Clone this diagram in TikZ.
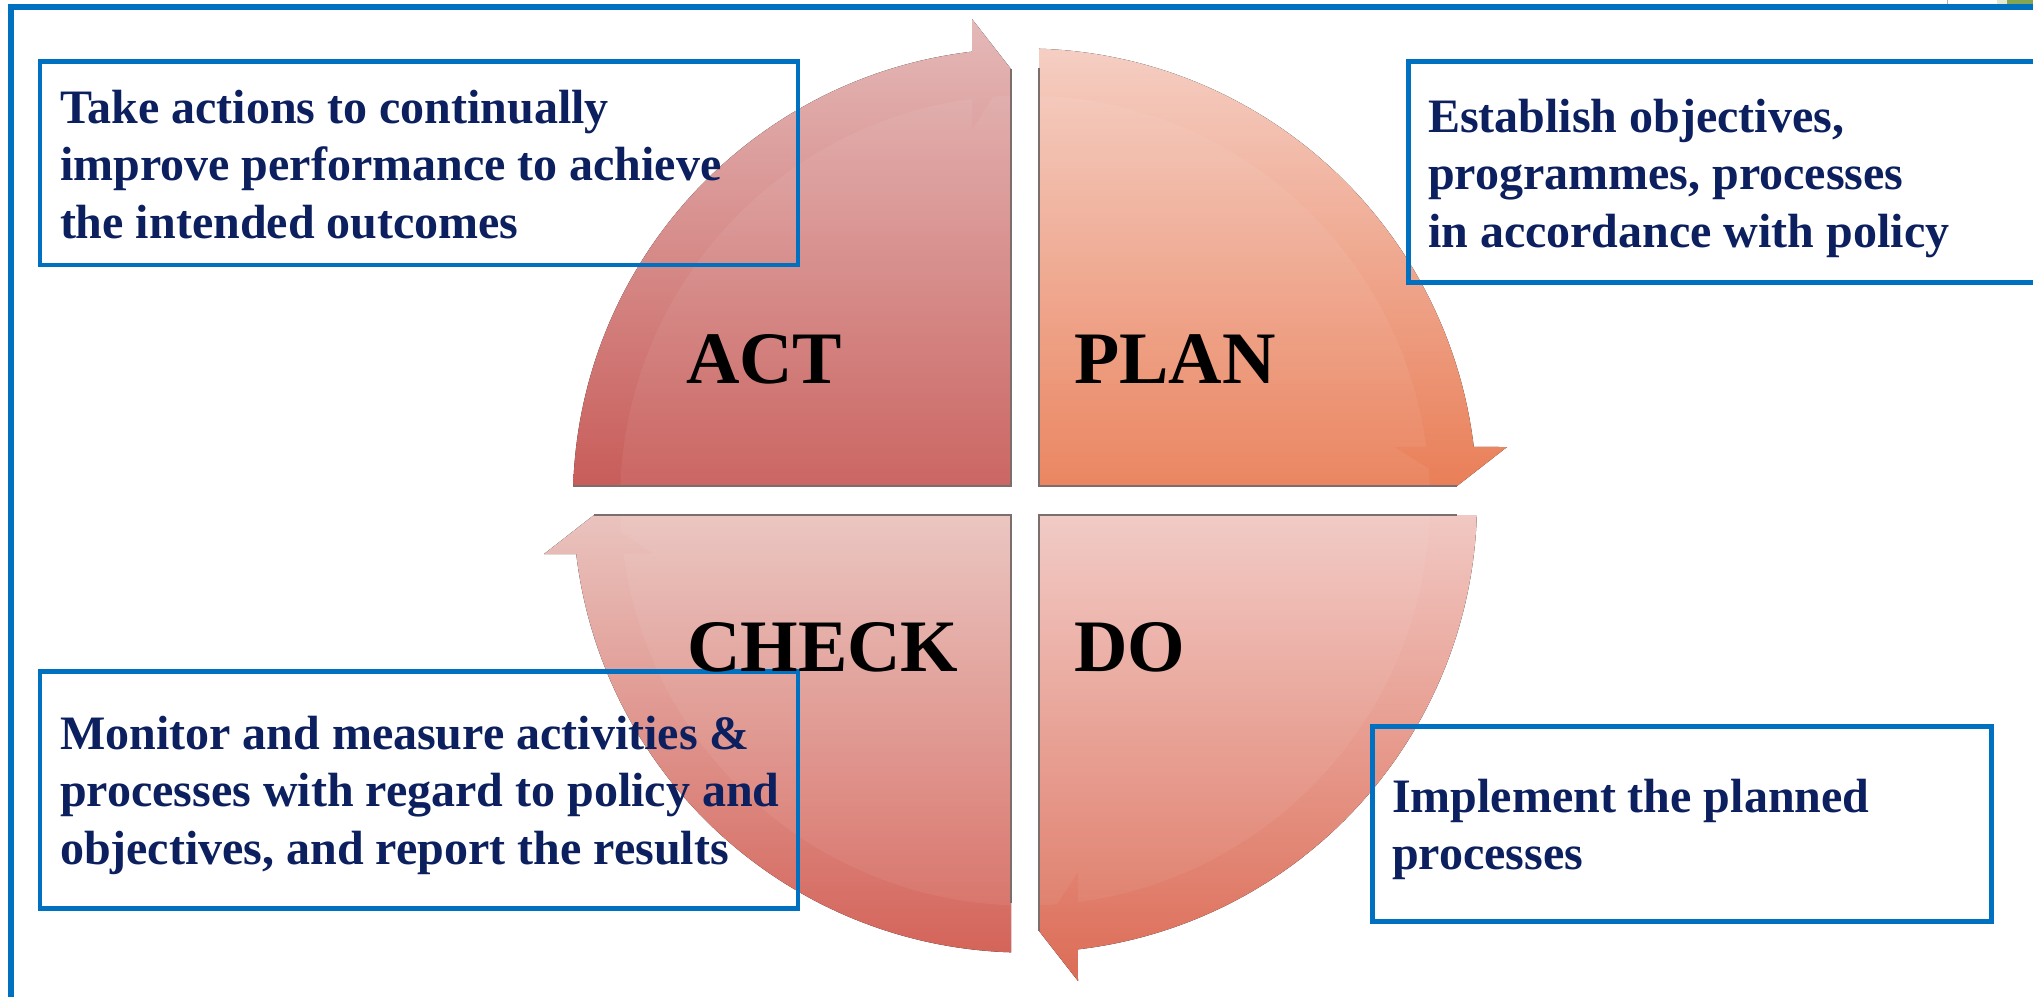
\documentclass[tikz,border=0pt]{standalone}
\usepackage{fontspec}
\setmainfont{Liberation Serif}
\definecolor{boxblue}{HTML}{0070C0}
\definecolor{navy}{HTML}{0C1F5E}
\definecolor{edgegray}{HTML}{7D6E6E}
\definecolor{actTop}{HTML}{E4B9B8}
\definecolor{actBot}{HTML}{C85D5A}
\definecolor{planTop}{HTML}{F5CEC3}
\definecolor{planBot}{HTML}{E97F58}
\definecolor{doTop}{HTML}{F1C8C3}
\definecolor{doBot}{HTML}{DC6C56}
\definecolor{checkTop}{HTML}{EAC3BE}
\definecolor{checkBot}{HTML}{D4645A}
\definecolor{paleGreen}{HTML}{E4EAD0}
\definecolor{leafGreen}{HTML}{84A552}
\begin{document}
\begin{tikzpicture}[x=1pt,y=-1pt,
  desc/.style={anchor=north west, inner sep=0pt, outer sep=0pt, align=left, text=navy,
    font=\fontsize{48}{57.5}\selectfont\bfseries},
  lbl/.style={anchor=base west, inner sep=0pt, outer sep=0pt, text=black,
    font=\fontsize{74}{80}\selectfont\bfseries},
  descbox/.style={draw=boxblue, line width=4.5pt, anchor=north west, inner sep=0pt, outer sep=0pt},
  edgeline/.style={draw=edgegray, line width=1.5pt},
  lightpart/.style={fill=white, fill opacity=0.06, even odd rule}]
\useasboundingbox (0,0) rectangle (2033,997);
\fill[white] (0,0) rectangle (2033,997);

% ---------- ACT quadrant (top left)
\fill[top color=actTop, bottom color=actBot] (573.2,486) arc[start angle=181.84, end angle=263.3, radius=452]
  -- (972,19) -- (1011,69) -- (1011,486) -- cycle;
\begin{scope}
  \clip (1011,486) -- (1011,95.7) arc[start angle=268.0, end angle=182.05, radius=405] -- cycle;
  \fill[lightpart] (1011,486) -- (1011,95.7) arc[start angle=268.0, end angle=182.05, radius=405] -- cycle
    (972,19) -- (1011,69) -- (972,130) -- cycle;
\end{scope}
\draw[edgeline] (1011,69) -- (1011,486) -- (573.2,486);

% ---------- PLAN quadrant (top right)
\fill[top color=planTop, bottom color=planBot] (1039,48.7) arc[start angle=271.78, end angle=353.2, radius=452]
  -- (1507,447) -- (1457,486) -- (1039,486) -- cycle;
\begin{scope}
  \clip (1039,486) -- (1039,95.7) arc[start angle=272.0, end angle=357.95, radius=405] -- cycle;
  \fill[lightpart] (1039,486) -- (1039,95.7) arc[start angle=272.0, end angle=357.95, radius=405] -- cycle
    (1507,447) -- (1457,486) -- (1394,447) -- cycle;
\end{scope}
\draw[edgeline] (1039,68) -- (1039,486) -- (1457,486);

% ---------- DO quadrant (bottom right)
\fill[top color=doTop, bottom color=doBot] (1476.8,515) arc[start angle=1.84, end angle=83.3, radius=452]
  -- (1078,981) -- (1039,931) -- (1039,515) -- cycle;
\begin{scope}
  \clip (1039,515) -- (1429.7,515) arc[start angle=2.05, end angle=88.0, radius=405] -- cycle;
  \fill[lightpart] (1039,515) -- (1429.7,515) arc[start angle=2.05, end angle=88.0, radius=405] -- cycle
    (1078,981) -- (1039,931) -- (1078,872) -- cycle;
\end{scope}
\draw[edgeline] (1457,515) -- (1039,515) -- (1039,931);

% ---------- CHECK quadrant (bottom left)
\fill[top color=checkTop, bottom color=checkBot] (1011,952.3) arc[start angle=91.78, end angle=173.2, radius=452]
  -- (544,554) -- (594,515) -- (1011,515) -- cycle;
\begin{scope}
  \clip (1011,515) -- (1011,905.2) arc[start angle=92.0, end angle=177.95, radius=405] -- cycle;
  \fill[lightpart] (1011,515) -- (1011,905.2) arc[start angle=92.0, end angle=177.95, radius=405] -- cycle
    (544,554) -- (594,515) -- (654,554) -- cycle;
\end{scope}
\draw[edgeline] (594,515) -- (1011,515) -- (1011,903);

% ---------- outer frame
\draw[boxblue, line width=6pt] (11,997) -- (11,6.5) -- (2033,6.5);
\draw[gray!60, line width=1pt] (1947,0) -- (1947,3.5);
\fill[paleGreen] (1997,0) rectangle (2007,3.5);
\fill[leafGreen] (2007,0) rectangle (2033,3.5);

% ---------- text boxes
\node[descbox, minimum width=758pt, minimum height=203.5pt] (actbox) at (40,61.5) {};
\node[descbox, minimum width=640pt, minimum height=221pt] (planbox) at (1408.5,61.5) {};
\node[descbox, minimum width=758pt, minimum height=237pt] (checkbox) at (40,671.5) {};
\node[descbox, minimum width=619pt, minimum height=195pt] (dobox) at (1372.5,726.5) {};

\node[desc] (acttext) at (60,{123-40.25}) {\strut Take actions to continually\\improve performance to achieve\\the intended outcomes};
\node[desc] (plantext) at (1428,{132-40.25}) {\strut Establish objectives,\\programmes, processes\\in accordance with policy};
\node[desc] (checktext) at (60,{749-40.25}) {\strut Monitor and measure activities \&\\processes with regard to policy and\\objectives, and report the results};
\node[desc] (dotext) at (1392,{812-40.25}) {\strut Implement the planned\\processes};

% ---------- quadrant labels
\node[lbl] (actlbl) at (686,383) {ACT};
\node[lbl] (planlbl) at (1074,383) {PLAN};
\node[lbl] (checklbl) at (687,671) {CHECK};
\node[lbl] (dolbl) at (1074,671) {DO};
\end{tikzpicture}
\end{document}
